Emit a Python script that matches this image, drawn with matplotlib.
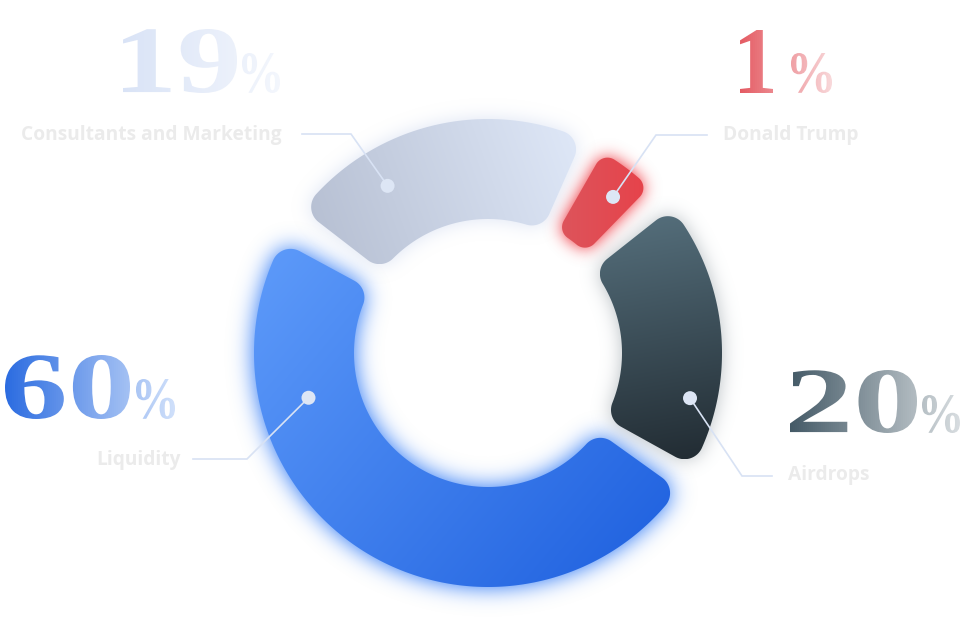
import numpy as np
import matplotlib
matplotlib.use("Agg")
import matplotlib.pyplot as plt
from matplotlib.path import Path
from matplotlib.patches import PathPatch, Circle
from matplotlib.patheffects import AbstractPathEffect
from matplotlib.transforms import Affine2D, Bbox
from matplotlib.colors import to_rgb

# ---------------- data ----------------
categories = ["Liquidity", "Airdrops", "Donald Trump", "Consultants and Marketing"]
percent = [60, 20, 1, 19]
# angular extent of each ring segment as drawn (deg, counter-clockwise from 3 o'clock)
seg_start = [151.6, -29.0, 45.8, 66.2]
seg_end = [324.4, 38.3, 60.2, 142.3]

# ---------------- layout / style ----------------
W, H = 964, 622
CX, CY = 488, 353          # donut centre in image pixels
seg_r_in = [134, 134, 140, 134]
seg_r_out = [234, 234, 231, 234]
seg_corner = [19, 19, 13, 19]

seg_grad = [("#5e9bfa", "#1d5fde", -40), ("#56707d", "#212b32", -80),
            ("#dd545b", "#e6434b", 0), ("#b5bed1", "#dfe8f8", 20)]
glow_style = [("#4f8ef7", 11, 1.25), ("#7d8a92", 9, 0.55),
              ("#f0434c", 8, 1.15), ("#b3c3e6", 9, 0.45)]

dot_ang = [194, -12.6, 51.3, 121]
dot_rad = [185, 207, 200, 195]
elbow_img = [(247, 459), (742, 476), (656, 135), (351, 134)]
line_end_x = [193, 772, 707, 302]
name_img = [(96, 465), (788, 480), (723, 140), (21, 140)]
num_box = [(5, 130, 355, 419), (790, 917, 370, 433), (740, 773, 30, 93), (123, 237, 29, 93)]
pct_box = [(136, 175, 379, 419), (922, 960, 395, 433), (791, 832, 53, 93), (242, 280, 53, 93)]
num_grad = [("#2a6be0", "#d0e0fa"), ("#435966", "#d8dde0"),
            ("#e45a62", "#f8d8da"), ("#d9e3f6", "#f3f6fc")]


def P(x, y):
    return x - CX, CY - y


fig = plt.figure(figsize=(W / 100, H / 100), dpi=100)
fig.patch.set_facecolor("white")
ax = fig.add_axes([0, 0, 1, 1])
ax.set_xlim(-CX, W - CX)
ax.set_ylim(CY - H, CY)
ax.set_autoscale_on(False)
ax.axis("off")


# ---------------- geometry ----------------
def arc_pts(c, r, a0, a1):
    n = max(int(abs(a1 - a0) * r / 1.0) + 2, 4)
    t = np.linspace(a0, a1, n)
    return np.column_stack([c[0] + r * np.cos(t), c[1] + r * np.sin(t)])


def corner(c, rc, p0, p1):
    b0 = np.arctan2(p0[1] - c[1], p0[0] - c[0])
    b1 = np.arctan2(p1[1] - c[1], p1[0] - c[0])
    d = (b1 - b0 + np.pi) % (2 * np.pi) - np.pi
    return arc_pts(c, rc, b0, b0 + d)


def rounded_sector(a1d, a2d, r_in, r_out, rc):
    a1, a2 = np.radians(a1d), np.radians(a2d)
    u1 = np.array([np.cos(a1), np.sin(a1)]); n1 = np.array([-np.sin(a1), np.cos(a1)])
    u2 = np.array([np.cos(a2), np.sin(a2)]); n2 = np.array([np.sin(a2), -np.cos(a2)])

    def geom(u, n, R, outer):
        d = R - rc if outer else R + rc
        t = np.sqrt(d ** 2 - rc ** 2)
        c = rc * n + t * u
        return c, t * u, c * R / d

    c1o, e1o, p1o = geom(u1, n1, r_out, True)
    c2o, e2o, p2o = geom(u2, n2, r_out, True)
    c2i, e2i, p2i = geom(u2, n2, r_in, False)
    c1i, e1i, p1i = geom(u1, n1, r_in, False)
    ang = lambda p: np.arctan2(p[1], p[0])
    f1 = ang(p1o); f2 = f1 + ((ang(p2o) - f1 + np.pi) % (2 * np.pi) - np.pi)
    if a2 - a1 > np.pi:
        f2 = f1 + ((ang(p2o) - f1) % (2 * np.pi))
    g1 = ang(p1i); g2 = g1 + ((ang(p2i) - g1 + np.pi) % (2 * np.pi) - np.pi)
    if a2 - a1 > np.pi:
        g2 = g1 + ((ang(p2i) - g1) % (2 * np.pi))
    pts = np.vstack([
        [e1i], [e1o],
        corner(c1o, rc, e1o, p1o),
        arc_pts((0, 0), r_out, f1, f2),
        corner(c2o, rc, p2o, e2o),
        [e2i],
        corner(c2i, rc, e2i, p2i),
        arc_pts((0, 0), r_in, g2, g1),
        corner(c1i, rc, p1i, e1i),
    ])
    pts = np.vstack([pts, pts[:1]])
    codes = [Path.MOVETO] + [Path.LINETO] * (len(pts) - 2) + [Path.CLOSEPOLY]
    return Path(pts, codes)


def gaussian_blur(a, s):
    pad = int(4 * s)
    ap = np.pad(a, pad)
    ky = np.fft.fftfreq(ap.shape[0])
    kx = np.fft.rfftfreq(ap.shape[1])
    G = np.exp(-2 * (np.pi * s) ** 2 * (ky[:, None] ** 2 + kx[None, :] ** 2))
    out = np.fft.irfft2(np.fft.rfft2(ap) * G, s=ap.shape)
    return out[pad:-pad, pad:-pad]


gx = np.arange(W) + 0.5 - CX
gy = CY - (np.arange(H) + 0.5)
GX, GY = np.meshgrid(gx, gy)
grid_pts = np.column_stack([GX.ravel(), GY.ravel()])

paths = []
for i in range(len(categories)):
    paths.append(rounded_sector(seg_start[i], seg_end[i], seg_r_in[i],
                                seg_r_out[i], seg_corner[i]))

# glows
for i, pth in enumerate(paths):
    col, sig, strength = glow_style[i]
    mask = pth.contains_points(grid_pts).reshape(H, W).astype(float)
    bl = gaussian_blur(mask, sig)
    rgba = np.zeros((H, W, 4))
    rgba[..., :3] = to_rgb(col)
    rgba[..., 3] = np.clip(bl * strength, 0, 1)
    ax.imshow(rgba, extent=(-CX, W - CX, CY - H, CY), origin="upper",
              zorder=1, interpolation="bilinear", aspect="auto")

# segments with gradient fill
for i, pth in enumerate(paths):
    patch = PathPatch(pth, facecolor="none", edgecolor="none", zorder=2)
    ax.add_patch(patch)
    c1, c2, dang = seg_grad[i]
    v = pth.vertices
    x0, y0 = v.min(0); x1, y1 = v.max(0)
    xs = np.linspace(x0, x1, 200); ys = np.linspace(y0, y1, 200)
    X, Y = np.meshgrid(xs, ys)
    d = np.array([np.cos(np.radians(dang)), np.sin(np.radians(dang))])
    proj = X * d[0] + Y * d[1]
    t = (proj - proj.min()) / (proj.max() - proj.min())
    img = (1 - t)[..., None] * np.array(to_rgb(c1)) + t[..., None] * np.array(to_rgb(c2))
    im = ax.imshow(img, extent=(x0, x1, y0, y1), origin="lower", zorder=3,
                   interpolation="bilinear", aspect="auto")
    im.set_clip_path(patch)

# leader lines and dots
for i in range(len(categories)):
    a = np.radians(dot_ang[i])
    dx, dy = dot_rad[i] * np.cos(a), dot_rad[i] * np.sin(a)
    ex, ey = P(*elbow_img[i])
    lx, _ = P(line_end_x[i], 0)
    ax.plot([dx, ex, lx], [dy, ey, ey], color="#d8e2f4", lw=1.2, zorder=4,
            solid_joinstyle="miter")
    ax.add_patch(Circle((dx, dy), 7, facecolor="#dde6f5", edgecolor="none", zorder=5))


# gradient + box-fit path effect for big numbers (keeps real text objects)
class GradientBoxText(AbstractPathEffect):
    def __init__(self, box, gx0, gx1, c1, c2):
        super().__init__()
        self.box = box
        self.gx0, self.gx1 = gx0, gx1
        self.c1 = np.array(to_rgb(c1)); self.c2 = np.array(to_rgb(c2))

    def draw_path(self, renderer, gc, tpath, affine, rgbFace=None):
        left, right, top, bottom = self.box
        T = ax.transData
        L, B = T.transform(P(left, bottom))
        Rr, Tp = T.transform(P(right, top))
        G0 = T.transform(P(self.gx0, 0))[0]
        G1 = T.transform(P(self.gx1, 0))[0]
        ext = affine.transform_path(tpath).get_extents()
        fit = Affine2D().translate(-ext.x0, -ext.y0).scale(
            (Rr - L) / ext.width, (Tp - B) / ext.height).translate(L, B)
        new_aff = affine + fit
        xs = int(np.floor(L)) - 1
        xe = int(np.ceil(Rr)) + 1
        for x in range(xs, xe, 2):
            tt = np.clip((x + 1 - G0) / (G1 - G0), 0, 1)
            col = tuple((1 - tt) * self.c1 + tt * self.c2)
            gc2 = renderer.new_gc()
            gc2.copy_properties(gc)
            gc2.set_linewidth(0)
            gc2.set_clip_rectangle(Bbox.from_extents(x, B - 4, x + 2, Tp + 4))
            renderer.draw_path(gc2, tpath, new_aff, col)
            gc2.restore()


for i in range(len(categories)):
    c1, c2 = num_grad[i]
    gx0 = num_box[i][0]; gx1 = pct_box[i][1]
    nb = num_box[i]
    ax.text(*P(nb[0], nb[3]), f"{percent[i]}", fontfamily="Liberation Serif",
            fontweight="bold", fontsize=60, ha="left", va="baseline", zorder=6,
            path_effects=[GradientBoxText(nb, gx0, gx1, c1, c2)])
    pb = pct_box[i]
    ax.text(*P(pb[0], pb[3]), "%", fontfamily="Liberation Serif",
            fontweight="bold", fontsize=26, ha="left", va="baseline", zorder=6,
            path_effects=[GradientBoxText(pb, gx0, gx1, c1, c2)])
    ax.text(*P(*name_img[i]), categories[i], fontfamily="Open Sans",
            fontweight="bold", fontsize=13.8, color="#ebebeb",
            ha="left", va="baseline", zorder=6)

fig.savefig("out.png", dpi=100, facecolor="white")
